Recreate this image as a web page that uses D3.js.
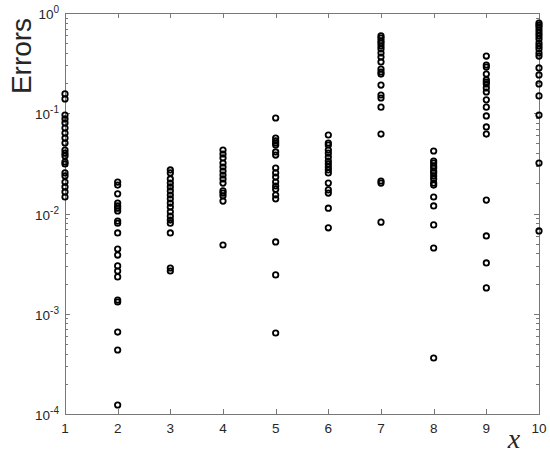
<!DOCTYPE html>
<html>
<head>
<meta charset="utf-8">
<script src="https://cdn.jsdelivr.net/npm/d3@7"></script>
<style>
  html, body { margin: 0; padding: 0; background: #fff; }
  svg { display: block; }
</style>
</head>
<body>
<svg id="chart" width="550" height="458"></svg>
<script>
// ---- data ----
const xCategories = [1, 2, 3, 4, 5, 6, 7, 8, 9, 10];
const errorsX1 = [0.156, 0.139, 0.096, 0.0877, 0.080, 0.0713, 0.0635, 0.0566, 0.0505, 0.043, 0.040, 0.0375, 0.0327, 0.0312, 0.0254, 0.0237, 0.0206, 0.0184, 0.0164, 0.0146];
const errorsX2 = [0.0206, 0.0192, 0.0157, 0.0127, 0.0119, 0.0113, 0.0106, 0.0084, 0.0080, 0.0064, 0.00442, 0.00385, 0.00300, 0.00267, 0.00233, 0.00137, 0.00131, 0.000657, 0.000435, 0.000123];
const errorsX3 = [0.0272, 0.0254, 0.0221, 0.0201, 0.0184, 0.0168, 0.0153, 0.0140, 0.0127, 0.0116, 0.0104, 0.0094, 0.0086, 0.0080, 0.0064, 0.00286, 0.00267];
const errorsX4 = [0.043, 0.0392, 0.0358, 0.0319, 0.0291, 0.0265, 0.0242, 0.0221, 0.0201, 0.0168, 0.0160, 0.0150, 0.0133, 0.00485];
const errorsX5 = [0.0897, 0.0566, 0.0529, 0.0505, 0.0482, 0.0411, 0.0383, 0.0284, 0.0254, 0.0231, 0.0206, 0.0188, 0.0175, 0.0153, 0.0140, 0.0052, 0.00244, 0.000643];
const errorsX6 = [0.0607, 0.0505, 0.0482, 0.043, 0.040, 0.0366, 0.0334, 0.0312, 0.0291, 0.0272, 0.0254, 0.0201, 0.0172, 0.0160, 0.0113, 0.0072];
const errorsX7 = [0.590, 0.563, 0.526, 0.502, 0.469, 0.438, 0.399, 0.364, 0.325, 0.276, 0.258, 0.246, 0.191, 0.152, 0.142, 0.115, 0.062, 0.0211, 0.0201, 0.0082];
const errorsX8 = [0.042, 0.0334, 0.0319, 0.0298, 0.0284, 0.0265, 0.0254, 0.0237, 0.0221, 0.0201, 0.0192, 0.0146, 0.0119, 0.0077, 0.00453, 0.000362];
const errorsX9 = [0.372, 0.303, 0.289, 0.246, 0.215, 0.205, 0.196, 0.179, 0.163, 0.136, 0.115, 0.094, 0.073, 0.062, 0.0136, 0.00597, 0.00321, 0.00181];
const errorsX10 = [0.795, 0.759, 0.725, 0.676, 0.631, 0.590, 0.550, 0.502, 0.469, 0.438, 0.399, 0.372, 0.283, 0.241, 0.196, 0.149, 0.096, 0.0319, 0.0067];
const yTickValues = [1e-4, 1e-3, 1e-2, 1e-1, 1];
const yTickExponents = ["-4", "-3", "-2", "-1", "0"];
const xLabel = "x";
const yLabel = "Errors";

const seriesByX = [errorsX1, errorsX2, errorsX3, errorsX4, errorsX5, errorsX6, errorsX7, errorsX8, errorsX9, errorsX10];
const points = [];
xCategories.forEach((xv, i) => seriesByX[i].forEach(v => points.push({ x: xv, y: v })));

// ---- layout ----
const svg = d3.select("#chart");
const plotLeft = 65, plotRight = 539, plotTop = 13, plotBottom = 414;
const axisColor = "#777";
const textColor = "#262626";
const font = "'Liberation Sans', Arial, sans-serif";

const x = d3.scaleLinear().domain([1, 10]).range([plotLeft, plotRight]);
const y = d3.scaleLog().domain([1e-4, 1]).range([plotBottom, plotTop]);

// box
svg.append("rect")
  .attr("x", plotLeft + 0.5).attr("y", plotTop + 0.5)
  .attr("width", plotRight - plotLeft).attr("height", plotBottom - plotTop)
  .attr("fill", "none").attr("stroke", axisColor).attr("stroke-width", 1);

// x ticks (inward, bottom and top)
const xTickG = svg.append("g");
xCategories.forEach(v => {
  const px = Math.round(x(v)) + 0.5;
  xTickG.append("line").attr("x1", px).attr("x2", px).attr("y1", plotBottom).attr("y2", plotBottom - 5)
    .attr("stroke", axisColor);
  xTickG.append("line").attr("x1", px).attr("x2", px).attr("y1", plotTop).attr("y2", plotTop + 5)
    .attr("stroke", axisColor);
  xTickG.append("text").attr("x", x(v)).attr("y", plotBottom + 19)
    .attr("text-anchor", "middle").attr("font-family", font).attr("font-size", 13.5)
    .attr("fill", textColor).text(v);
});

// y ticks: major + minor, inward on left and right
const yTickG = svg.append("g");
const minorTicks = [];
for (let e = -4; e < 0; e++) for (let m = 2; m <= 9; m++) minorTicks.push(m * Math.pow(10, e));
minorTicks.forEach(v => {
  const py = Math.round(y(v)) + 0.5;
  yTickG.append("line").attr("x1", plotLeft).attr("x2", plotLeft + 3).attr("y1", py).attr("y2", py).attr("stroke", axisColor);
  yTickG.append("line").attr("x1", plotRight).attr("x2", plotRight - 3).attr("y1", py).attr("y2", py).attr("stroke", axisColor);
});
yTickValues.forEach((v, i) => {
  const py = Math.round(y(v)) + 0.5;
  yTickG.append("line").attr("x1", plotLeft).attr("x2", plotLeft + 5).attr("y1", py).attr("y2", py).attr("stroke", axisColor);
  yTickG.append("line").attr("x1", plotRight).attr("x2", plotRight - 5).attr("y1", py).attr("y2", py).attr("stroke", axisColor);
  const t = yTickG.append("text").attr("x", plotLeft - 6).attr("y", y(v) + 6)
    .attr("text-anchor", "end").attr("font-family", font).attr("font-size", 13.5).attr("fill", textColor);
  t.append("tspan").text("10");
  t.append("tspan").attr("dy", -6).attr("font-size", 10).text(yTickExponents[i]);
});

// axis labels
svg.append("text")
  .attr("transform", `translate(31, 56) rotate(-90)`)
  .attr("text-anchor", "middle").attr("font-family", font).attr("font-size", 28)
  .attr("fill", textColor).text(yLabel);
svg.append("text")
  .attr("x", 514).attr("y", 448)
  .attr("text-anchor", "middle").attr("font-family", "'Liberation Serif', 'DejaVu Serif', serif")
  .attr("font-style", "italic").attr("font-size", 28).attr("fill", textColor).text(xLabel);

// points
svg.append("g").selectAll("circle").data(points).join("circle")
  .attr("cx", d => x(d.x)).attr("cy", d => y(d.y)).attr("r", 2.7)
  .attr("fill", "none").attr("stroke", "#000").attr("stroke-width", 1.8);
</script>
</body>
</html>
